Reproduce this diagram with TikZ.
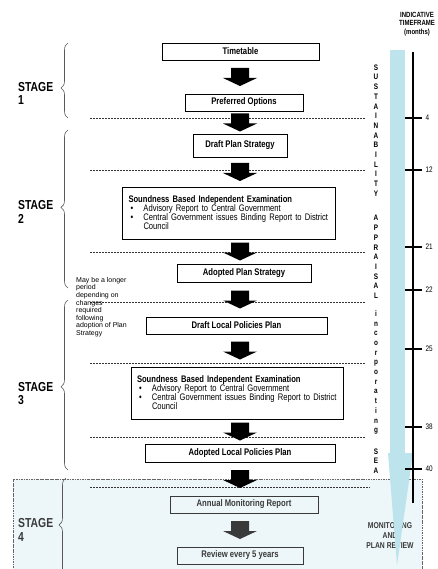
\documentclass[tikz,border=0pt]{standalone}
\usepackage{fontspec}
\setmainfont{Liberation Sans}[FakeStretch=0.8]
\newfontfamily\notefont{Liberation Sans}
\usepackage{tikz}
\usetikzlibrary{calc,decorations.pathreplacing,positioning}
\definecolor{sacolumn}{HTML}{BDE4EC}
\definecolor{monitorfill}{HTML}{EDF7F9}
\definecolor{stagegrey}{HTML}{3A3A3A}

\newcommand{\stagearrow}[3][flowarrow]{%
	\path let \p1=($(#2.south)!0.5!(#3.north)$) in coordinate (#2-#3) at (240pt,\y1);
	\fill[#1,shift={(#2-#3)}] (-9,-9) -- (9,-9) -- (9,1) -- (17,1) -- (0,9) -- (-17,1) -- (-9,1) -- cycle;
}

\begin{document}
\begin{tikzpicture}[x=1pt,y=-1pt,
	box/.style={draw,line width=0.9pt,inner sep=0pt,minimum height=17,font=\bfseries\fontsize{9.6}{11}\selectfont},
	exambox/.style={box,minimum height=52,align=left,text width=200,font=\fontsize{9.5}{9}\selectfont},
	flowarrow/.style={fill=black},
	stagelabel/.style={anchor=west,align=left,inner sep=0pt,font=\bfseries\fontsize{13}{13.5}\selectfont},
	stagebrace/.style={draw=black!65,line width=0.6pt,decorate,decoration={brace,amplitude=7pt,aspect=#1}},
	stageline/.style={draw=black!80,line width=0.8pt,dash pattern=on 2pt off 1pt},
	stagefour/.style={fill=monitorfill,draw=black!60,line width=0.6pt,dash pattern=on 2.5pt off 1pt on 0.6pt off 1pt},
	sideword/.style={align=center,inner sep=0pt,font=\bfseries\fontsize{8}{9.7}\selectfont},
	monthtick/.style={line width=1.3pt},
	monthlabel/.style={right,inner sep=3pt,font=\fontsize{8}{9}\selectfont},
	notelabel/.style={anchor=north west,align=left,inner sep=0pt,font=\notefont\fontsize{7}{7.6}\selectfont},
	headerlabel/.style={align=center,inner sep=0pt,font=\bfseries\fontsize{7.5}{8.5}\selectfont},
	monitorlabel/.style={align=center,inner sep=0pt,text=stagegrey,font=\bfseries\fontsize{8.5}{10}\selectfont}
]
	\useasboundingbox (0,0) rectangle (438,569);
	\draw[stagefour] (13,479) rectangle (422,580);
	\draw[stageline] (90,118) -- (365,118);
	\draw[stageline] (90,170) -- (365,170);
	\draw[stageline] (90,252) -- (365,252);
	\draw[stageline] (90,302) -- (365,302);
	\draw[stageline] (90,363) -- (365,363);
	\draw[stageline] (90,437) -- (365,437);
	\draw[stageline] (90,487) -- (370,487);

	\node[box,minimum width=157] (timetable) at (240.5,51.5) {Timetable};
	\node[box,minimum width=118] (preferred) at (244,102.5) {Preferred Options};
	\node[box,minimum width=94,minimum height=23] (draftplan) at (240,145.5) {Draft Plan Strategy};
	\node[exambox,minimum width=213] (soundone) at (228.5,213) {{\bfseries Soundness Based Independent Examination}\\
		\hspace*{2pt}\makebox[13pt][l]{\textbullet}Advisory Report to Central Government\\
		\hspace*{2pt}\makebox[13pt][l]{\textbullet}Central Government issues Binding Report to District\\
		\hspace*{15pt}Council};
	\node[box,minimum width=134,minimum height=18] (adoptedplan) at (244,273) {Adopted Plan Strategy};
	\node[box,minimum width=181] (draftlocal) at (236.5,325.5) {Draft Local Policies Plan};
	\node[exambox,minimum width=212] (soundtwo) at (237,393) {{\bfseries Soundness Based Independent Examination}\\
		\hspace*{2pt}\makebox[13pt][l]{\textbullet}Advisory Report to Central Government\\
		\hspace*{2pt}\makebox[13pt][l]{\textbullet}Central Government issues Binding Report to District\\
		\hspace*{15pt}Council};
	\node[box,minimum width=190,minimum height=18] (adoptedlocal) at (240,453) {Adopted Local Policies Plan};
	\node[box,draw=stagegrey,text=stagegrey,minimum width=148] (annual) at (244,504.5) {Annual Monitoring Report};
	\node[box,draw=stagegrey,text=stagegrey,minimum width=126] (review) at (240,555.5) {Review every 5 years};

	\stagearrow{timetable}{preferred}
	\stagearrow{preferred}{draftplan}
	\stagearrow{draftplan}{soundone}
	\stagearrow{soundone}{adoptedplan}
	\stagearrow{adoptedplan}{draftlocal}
	\stagearrow{draftlocal}{soundtwo}
	\stagearrow{soundtwo}{adoptedlocal}
	\stagearrow{adoptedlocal}{annual}
	\stagearrow[flowarrow,fill=stagegrey]{annual}{review}

	\node[stagelabel] (stageone) at (18,93.5) {STAGE\\1};
	\node[stagelabel] (stagetwo) at (18,212) {STAGE\\2};
	\node[stagelabel] (stagethree) at (18,393.5) {STAGE\\3};
	\node[stagelabel,text=stagegrey] (stagefour) at (18,530) {STAGE\\4};
	\draw[stagebrace=0.4] (68,118) -- (68,43);
	\draw[stagebrace=0.51] (68,288) -- (68,130);
	\draw[stagebrace=0.49] (68,470) -- (68,300);
	\draw[stagebrace=0.54] (66,580) -- (66,478);
	\node[notelabel] (longernote) at (76,277) {May be a longer\\period\\depending on\\changes\\required\\following\\adoption of Plan\\Strategy};

	\node[sideword] (sustainability) at (376,130.5) {S\\U\\S\\T\\A\\I\\N\\A\\B\\I\\L\\I\\T\\Y};
	\node[sideword] (appraisal) at (376,257) {A\\P\\P\\R\\A\\I\\S\\A\\L};
	\node[sideword] (incorporating) at (376,372.5) {i\\n\\c\\o\\r\\p\\o\\r\\a\\t\\i\\n\\g};
	\node[sideword] (sea) at (376,461) {S\\E\\A};

	\node[monitorlabel] (monitoring) at (390,536) {MONITORING\\AND\\PLAN REVIEW};
	\fill[sacolumn] (390,50) rectangle (405,453);
	\fill[sacolumn] (388,453) -- (413,453) -- (397,565) -- cycle;

	\node[headerlabel] (timeframe) at (417,24) {INDICATIVE\\TIMEFRAME\\(months)};
	\draw[monthtick] (413,52) -- (413,503);
	\draw[monthtick] (405,118) -- (422,118) node[monthlabel] (month4) {4};
	\draw[monthtick] (405,170) -- (422,170) node[monthlabel] (month12) {12};
	\draw[monthtick] (405,247) -- (422,247) node[monthlabel] (month21) {21};
	\draw[monthtick] (405,290) -- (422,290) node[monthlabel] (month22) {22};
	\draw[monthtick] (405,349) -- (422,349) node[monthlabel] (month25) {25};
	\draw[monthtick] (405,427) -- (422,427) node[monthlabel] (month38) {38};
	\draw[monthtick] (405,469) -- (422,469) node[monthlabel] (month40) {40};
\end{tikzpicture}
\end{document}
